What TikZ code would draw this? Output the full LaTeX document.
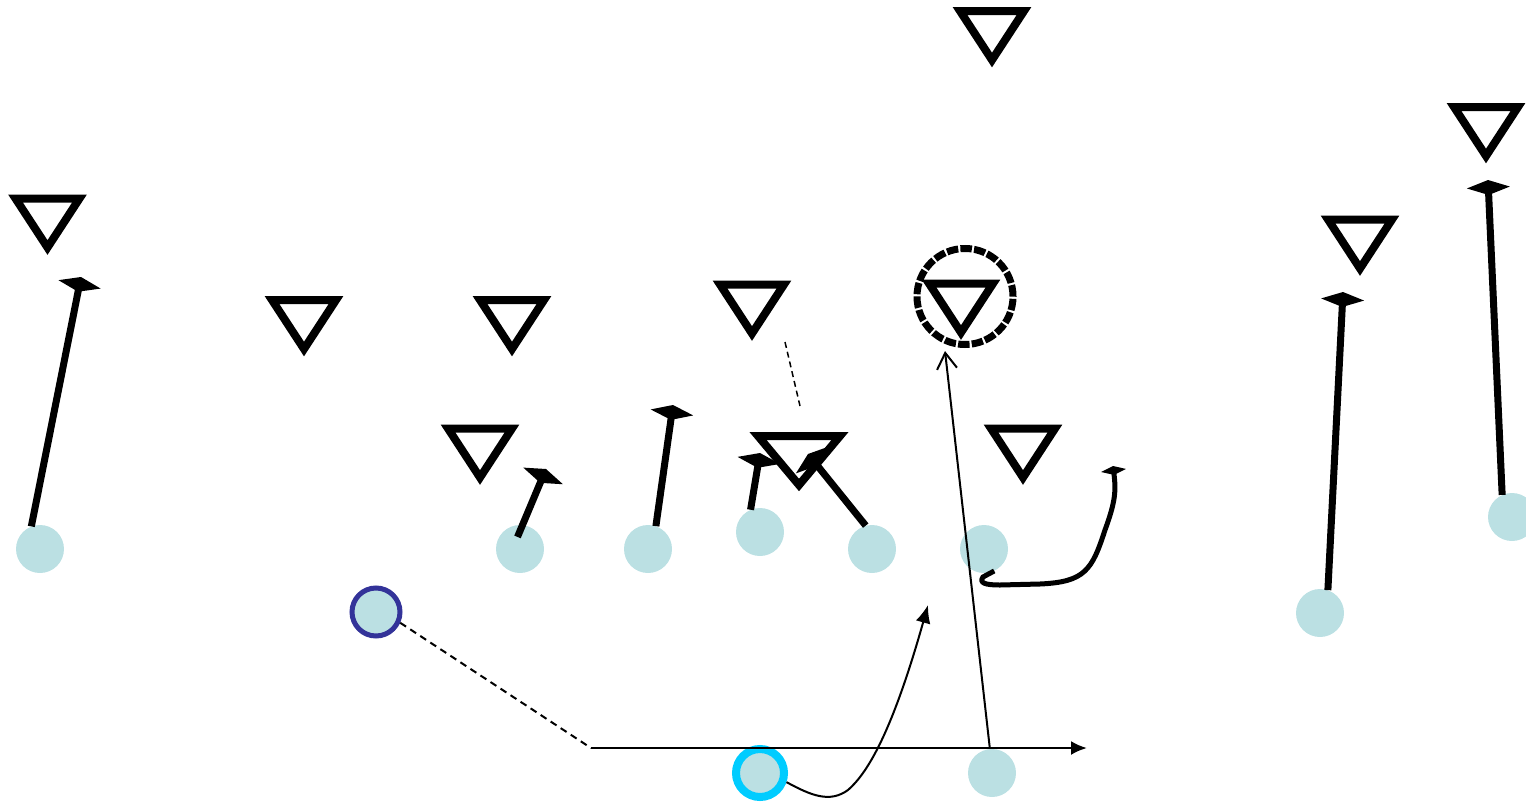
\documentclass[tikz,border=0pt]{standalone}
\usetikzlibrary{arrows.meta}
\definecolor{pl}{HTML}{BBE0E3}
\definecolor{ringblue}{HTML}{333399}
\definecolor{ringcyan}{HTML}{00CCFF}
\tikzset{
  player/.style={circle,fill=pl,minimum size=48pt,inner sep=0pt},
  deftri/.style={line width=8pt,line join=miter,miter limit=10},
  defn/.pic={\draw[deftri] (-32,-24.5) -- (32,-24.5) -- (0,24.5) -- cycle;},
  bigdefn/.pic={\draw[deftri] (-41,-24.5) -- (41,-24.5) -- (0,24.5) -- cycle;},
  block/.style={line width=7pt,-{Diamond[length=15pt,width=43pt]}},
  thinblock/.style={line width=5pt,-{Diamond[length=9pt,width=25pt]}},
  route/.style={line width=2pt},
}
\begin{document}
\begin{tikzpicture}[x=1pt,y=-1pt]
\useasboundingbox (0,0) rectangle (1526,806);
% defenders
\pic at (992,35.5) {defn};
\pic at (47.5,223) {defn};
\pic at (304,324.5) {defn};
\pic at (512,324.5) {defn};
\pic at (752,309) {defn};
\pic at (961,308) {defn};
\pic at (480,453) {defn};
\pic at (799,460.5) {bigdefn};
\pic at (1023,453) {defn};
\pic at (1360,244) {defn};
\pic at (1486,131.5) {defn};
\node[circle,draw,minimum size=96pt,inner sep=0pt,line width=7pt,line cap=butt,dash pattern=on 11.5pt off 2.2pt] (ring) at (965,296.5) {};
% players
\node[player] (p1) at (40,549) {};
\node[player] (p2) at (520,549) {};
\node[player] (p3) at (648,549) {};
\node[player] (p4) at (760,532) {};
\node[player] (p5) at (872,549) {};
\node[player] (p6) at (984,549) {};
\node[player] (p7) at (1320,613) {};
\node[player] (p8) at (1512,517) {};
\node[player,draw=ringblue,line width=5pt] (wb) at (376,612) {};
\node[player,draw=ringcyan,line width=8pt] (qb) at (760,773) {};
\node[player] (rb) at (992,773) {};
% free ends
\coordinate (t1) at (81,277);
\coordinate (t2) at (546,469);
\coordinate (t3) at (673,405);
\coordinate (t4) at (760,453);
\coordinate (t5) at (808,454);
\coordinate (t7) at (1343,292);
\coordinate (t8) at (1488,180);
\coordinate (t6) at (1113,466);
\coordinate (corner) at (591,748);
\coordinate (runend) at (1087,748);
\coordinate (rbend) at (945,351);
\coordinate (qbend) at (928,605);
\coordinate (da) at (785,342);
\coordinate (db) at (800,406);
% blocks
\draw[block] (p1.111) -- (t1);
\draw[block,shorten <=-13pt] (p2.84) -- (t2);
\draw[block] (p3.71) -- (t3);
\draw[block] (p4.113) -- (t4);
\draw[block] (p5.105) -- (t5);
\draw[block] (p7.71) -- (t7);
\draw[block] (p8.114) -- (t8);
\draw[thinblock] (p6.-65) -- (983,577) .. controls (979,583) and (985,585) .. (1000,585) -- (1040,584) .. controls (1085,582) and (1092,570) .. (1105,530) .. controls (1116,500) and (1116,490) .. (t6);
% routes
\draw[route,dash pattern=on 7pt off 5pt] (wb.-24) -- (corner);
\draw[line width=2.5pt,-{Latex[length=16pt,width=14pt]}] (corner) -- (runend);
\draw[route,-{Straight Barb[length=16pt,width=20pt]}] (rb.95) -- (rbend);
\draw[route,-{Latex[length=18pt,width=15pt]}] (qb.-19) .. controls (812,796) and (830,803) .. (848,790) .. controls (865,775) and (890,740) .. (qbend);
\draw[line width=1.5pt,dash pattern=on 6pt off 4pt] (da) -- (db);
\end{tikzpicture}
\end{document}
